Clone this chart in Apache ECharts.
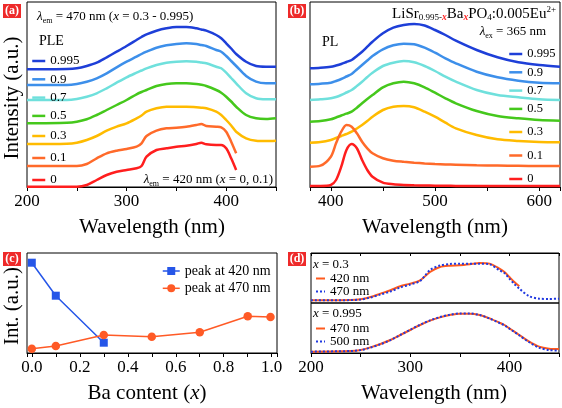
<!DOCTYPE html>
<html><head><meta charset="utf-8">
<script src="https://cdn.jsdelivr.net/npm/echarts@6/dist/echarts.min.js"></script>
<style>html,body{margin:0;padding:0;background:#fff}#c{width:562px;height:408px}</style>
</head><body><div id="c"></div>
<script>
// ---------- (a) PLE spectra (offset curves, px-above-axis units) ----------
const WL_A = [200,240,250,260,270,280,290,300,310,315,320,330,340,350,360,370,375,380,390,395,400,405,410,420,430,440,450];
const ple_0    = [1.3,1.3,1.3,3,8,13,16.3,18,19.7,22,31.3,38,39.7,41.3,42.3,44,45.3,43.7,43,43,39.7,29.7,18,null,null,null,null];
const ple_01   = [22,22,22,24,29.7,34.7,37.3,39,41.3,44.7,52,57.3,59.7,60.3,61.3,63,64,62,61.3,60.7,56.3,46.3,34.7,null,null,null,null];
const ple_03   = [44,44.3,45.3,48,52,57.3,61.3,64.7,69.7,72.5,76.3,79.7,81.3,81.3,81.3,80.7,80.3,79.7,76.3,73,68,62.5,56.3,49.7,47.3,47,47.3];
const ple_05   = [64.7,65.3,66.3,68.7,73,78,83,88,93.7,96,98,102,104,104.7,104.7,104,103.2,102,98,95.3,91.3,86.5,81.3,73,69.7,69,69.7];
const ple_07   = [88,88,89,91.3,94.7,99.7,105.3,110.7,115.3,117.5,119.7,123,125.3,126.3,126.7,126.3,125.5,124.7,121.3,119.7,115.3,110,104.7,94.7,89.7,88.7,88.7];
const ple_09   = [103,103,104,106.3,109.7,114.7,120.7,126.3,131.3,134,136.3,140.3,142.7,144,144.7,144,143,142,138,136.3,132,127,122,112,106.3,104.7,104.7];
const ple_0995 = [118.7,119,119.7,122,125.3,130.7,136.3,142,148,151,153.7,157.3,159.7,161,161,159.7,158.5,157.3,153,149.7,144.7,139.5,134,126.3,122,121.3,121.3];

// ---------- (b) PL spectra ----------
const WL_B = [380,390,400,405,410,415,420,425,430,435,440,450,460,470,480,490,500,510,520,540,560,580,600,620];
const pl_0    = [2,2,3,8,21.3,38,44,39.7,28,18,11.3,5.3,3.7,3,2.7,2.5,2.3,2.2,2.1,2,2,2,2,2];
const pl_01   = [21.3,22.3,31.3,44.7,56.3,63,61.3,54.7,46.3,39.7,34.7,29.7,27.3,26.2,25.3,24.6,24,23.6,23.3,22.7,22.4,22.2,22,22];
const pl_03   = [45.3,46,48,50,52,54,56.3,59.5,63,67,71.3,78,81.3,82,80.7,76.3,71.3,65.3,59.7,53,48.7,47,46,45.7];
const pl_05   = [66.3,67,68.7,70.5,72.5,74.3,76.3,80.3,84.7,89,93,100.7,104.7,106.3,104.7,100.7,95.3,89.7,84.7,77,72,69.7,68,67.3];
const pl_07   = [88,88.7,89.7,91,93,95.5,98,102,106.3,111,115.3,122,125.3,127,125.7,122,117,111.3,106.3,98,93,90.7,88.7,88];
const pl_09   = [103.7,104.3,105.3,107,109,111.5,114,118.5,123,127.5,132,138.7,142.7,144.3,143.7,140.3,135.3,129.7,124.7,116.3,110.7,107.3,105.3,104.7];
const pl_0995 = [119.7,120.3,121.3,122.5,124,126,128,132,136.3,141.3,146.3,154.7,160.3,163,164,162.5,158,153,147.3,138,130.7,125.7,123,121.3];

// ---------- (c) peak intensities vs Ba content ----------
const baX420 = [0, 0.1, 0.3];
const peak420 = [90.3, 57.3, 10.3];
const baX470 = [0, 0.1, 0.3, 0.5, 0.7, 0.9, 0.995];
const peak470 = [4.3, 7, 18, 16.3, 20.7, 36.7, 36];

// ---------- (d) normalised PLE comparison ----------
const WL_D = [200,240,250,260,270,280,290,300,310,320,330,340,350,360,370,380,390,395,400,405,410,420,430,440,450];
const d03_420   = [0.054,0.06,0.074,0.12,0.187,0.254,0.334,0.387,0.454,0.62,0.72,0.747,0.754,0.774,0.8,0.787,0.687,0.62,0.52,0.42,0.334,null,null,null,null];
const d03_470   = [0.054,0.058,0.07,0.11,0.17,0.23,0.31,0.37,0.44,0.66,0.75,0.78,0.787,0.787,0.787,0.774,0.654,0.6,0.487,0.38,0.287,0.134,0.087,0.08,0.087];
const d0995_470 = [0.027,0.04,0.06,0.113,0.18,0.26,0.36,0.46,0.56,0.647,0.713,0.76,0.787,0.787,0.76,0.693,0.607,0.56,0.493,0.427,0.36,0.227,0.127,0.087,0.08];
const d0995_500 = [0.027,0.04,0.058,0.108,0.175,0.257,0.36,0.465,0.565,0.652,0.718,0.765,0.79,0.79,0.76,0.69,0.6,0.555,0.487,0.42,0.352,0.215,0.105,0.058,0.05];

const xLabels = ['0.995','0.9','0.7','0.5','0.3','0.1','0'];
const COLORS = {'0.995':'#1e3fd8','0.9':'#3d8fea','0.7':'#6fe0dc','0.5':'#45c81c','0.3':'#ffbb00','0.1':'#ff6a2a','0':'#ff1e1e'};
const pleData = {'0.995':ple_0995,'0.9':ple_09,'0.7':ple_07,'0.5':ple_05,'0.3':ple_03,'0.1':ple_01,'0':ple_0};
const plData  = {'0.995':pl_0995,'0.9':pl_09,'0.7':pl_07,'0.5':pl_05,'0.3':pl_03,'0.1':pl_01,'0':pl_0};

const SERIF = 'Liberation Serif';
function pairs(xs, ys){ return xs.map((x,i)=>[x, ys[i]]).filter(p=>p[1]!==null && p[1]!==undefined); }

const grids = [
  {left:27, top:2, width:249, height:185},
  {left:310, top:2, width:250, height:185},
  {left:27, top:253, width:250, height:100},
  {left:311, top:253, width:248, height:50},
  {left:311, top:303, width:248, height:50}
].map(g=>Object.assign(g,{show:true, borderColor:'#000', borderWidth:1, containLabel:false, outerBoundsMode:'none', backgroundColor:'transparent'}));

function hundreds(v){ return (Math.abs(v/100 - Math.round(v/100))<1e-6) ? String(Math.round(v)) : ''; }
function wlAxis(gi, min, max, showLabels){
  return {type:'value', gridIndex:gi, min:min, max:max, minInterval:50, maxInterval:50,
    axisLine:{show:true, onZero:false, lineStyle:{color:'#000', width:1}},
    axisTick:{show:true, inside:false, length:4, lineStyle:{color:'#000'}},
    axisLabel:{show:showLabels, formatter:hundreds, fontFamily:SERIF, fontSize:17, color:'#000', margin:6, hideOverlap:false},
    splitLine:{show:false}};
}
const xAxes = [
  wlAxis(0,200,450,true),
  wlAxis(1,380,620,true),
  {type:'value', gridIndex:2, min:-0.02, max:1.022, minInterval:0.1, maxInterval:0.1,
    axisLine:{show:true, onZero:false, lineStyle:{color:'#000'}},
    axisTick:{show:true, length:4, lineStyle:{color:'#000'}},
    axisLabel:{fontFamily:SERIF, fontSize:17, color:'#000', margin:6, hideOverlap:false,
      formatter:function(v){ const t=Math.round(v*10); return (Math.abs(v*10-t)<1e-6 && t%2===0 && t>=0 && t<=10) ? (t/10).toFixed(1) : ''; }},
    splitLine:{show:false}},
  Object.assign(wlAxis(3,200,450,false), {position:'top', axisTick:{show:true, inside:true, length:3, lineStyle:{color:'#000'}}}),
  wlAxis(4,200,450,true)
];
const yAxes = [
  {type:'value', gridIndex:0, min:1, max:186, show:false},
  {type:'value', gridIndex:1, min:1, max:186, show:false},
  {type:'value', gridIndex:2, min:0, max:100, show:false},
  {type:'value', gridIndex:3, min:0, max:1, show:false},
  {type:'value', gridIndex:4, min:0, max:1, show:false}
];

const series = [];
xLabels.forEach(k=>{
  series.push({name:'a:'+k, type:'line', xAxisIndex:0, yAxisIndex:0, data:pairs(WL_A, pleData[k]),
    symbol:'none', smooth:0.3, lineStyle:{color:COLORS[k], width:2.5}, itemStyle:{color:COLORS[k]}, z:2});
  series.push({name:'b:'+k, type:'line', xAxisIndex:1, yAxisIndex:1, data:pairs(WL_B, plData[k]),
    symbol:'none', smooth:0.3, lineStyle:{color:COLORS[k], width:2.5}, itemStyle:{color:COLORS[k]}, z:2});
});
series.push({name:'c:peak at 420 nm', type:'line', xAxisIndex:2, yAxisIndex:2, data:pairs(baX420, peak420),
  symbol:'rect', symbolSize:8, lineStyle:{color:'#2656e8', width:1.5}, itemStyle:{color:'#2656e8'}, z:3});
series.push({name:'c:peak at 470 nm', type:'line', xAxisIndex:2, yAxisIndex:2, data:pairs(baX470, peak470),
  symbol:'circle', symbolSize:8.5, lineStyle:{color:'#ff5a26', width:1.5}, itemStyle:{color:'#ff5a26'}, z:4});
series.push({name:'d1:420 nm', type:'line', xAxisIndex:3, yAxisIndex:3, data:pairs(WL_D, d03_420),
  symbol:'none', smooth:0.3, lineStyle:{color:'#ff5a1e', width:2}, itemStyle:{color:'#ff5a1e'}, z:2});
series.push({name:'d1:470 nm', type:'line', xAxisIndex:3, yAxisIndex:3, data:pairs(WL_D, d03_470),
  symbol:'none', smooth:0.3, lineStyle:{color:'#2038e0', width:2, type:[2,2]}, itemStyle:{color:'#2038e0'}, z:3});
series.push({name:'d2:470 nm', type:'line', xAxisIndex:4, yAxisIndex:4, data:pairs(WL_D, d0995_470),
  symbol:'none', smooth:0.3, lineStyle:{color:'#ff5a1e', width:2}, itemStyle:{color:'#ff5a1e'}, z:2});
series.push({name:'d2:500 nm', type:'line', xAxisIndex:4, yAxisIndex:4, data:pairs(WL_D, d0995_500),
  symbol:'none', smooth:0.3, lineStyle:{color:'#2038e0', width:2, type:[2,2]}, itemStyle:{color:'#2038e0'}, z:3});

function lg(names, left, top, opts){
  return Object.assign({
    data:names, left:left, top:top, orient:'vertical', padding:0, selectedMode:false,
    itemWidth:13, itemHeight:14, itemGap:4,
    formatter:function(n){ return n.split(':')[1]; },
    textStyle:{fontFamily:SERIF, fontSize:13, color:'#000', lineHeight:14},
    itemStyle:{opacity:0}, lineStyle:{width:2.5}
  }, opts||{});
}
const legends = [
  lg(['a:0.995','a:0.9','a:0.7','a:0.5'], 31, 54, {itemGap:4.3}),
  lg(['a:0.3','a:0.1','a:0'], 31, 129, {itemGap:8}),
  lg(['b:0.995','b:0.9','b:0.7','b:0.5'], 508, 47, {itemGap:4.3, textStyle:{fontFamily:SERIF, fontSize:12.5, color:'#000', lineHeight:14}}),
  lg(['b:0.3','b:0.1','b:0'], 508, 125, {itemGap:9.5, textStyle:{fontFamily:SERIF, fontSize:12.5, color:'#000', lineHeight:14}}),
  lg(['c:peak at 420 nm','c:peak at 470 nm'], 162, 264, {itemWidth:17, itemHeight:10, itemGap:3.3, itemStyle:{}, lineStyle:{width:1.5},
     textStyle:{fontFamily:SERIF, fontSize:14, color:'#000', lineHeight:14}}),
  lg(['d1:420 nm','d1:470 nm'], 315, 272, {itemWidth:9, itemHeight:8, itemGap:0, lineStyle:{width:2},
     textStyle:{fontFamily:SERIF, fontSize:13, color:'#000', lineHeight:12.5}}),
  lg(['d2:470 nm','d2:500 nm'], 315, 322, {itemWidth:9, itemHeight:8, itemGap:0, lineStyle:{width:2},
     textStyle:{fontFamily:SERIF, fontSize:13, color:'#000', lineHeight:12.5}})
];

function rs(size, extra){ return Object.assign({fontFamily:SERIF, fontSize:size, fill:'#000', fontStyle:'normal'}, extra||{}); }
function txt(x, y, text, size, align, extra){
  return Object.assign({type:'text', x:x, y:y, z:100, style:Object.assign({text:text, fontFamily:SERIF, fontSize:size, fill:'#000', align:align||'left', verticalAlign:'middle'}, extra||{})}, {});
}
function richTxt(x, y, text, size, align, rich){
  return {type:'text', x:x, y:y, z:100, style:{text:text, fontFamily:SERIF, fontSize:size, fill:'#000', align:align, verticalAlign:'middle', rich:rich}};
}
const richA = {
  n: rs(13), i: rs(13,{fontStyle:'italic'}), sub: rs(8,{padding:[7,0,0,0]})
};
const richF = {
  n: rs(15), sub: rs(9,{padding:[8,0,0,0]}), subx: rs(9.5,{fontStyle:'italic', fill:'#ff1e1e', fontWeight:'bold', padding:[8,0,0,0]}),
  sup: rs(9,{padding:[0,0,9,0]})
};
function tag(x, y, s){
  return [{type:'rect', z:100, shape:{x:x, y:y, width:18, height:14}, style:{fill:'#ee2a2a'}},
          {type:'text', z:101, x:x+9, y:y+7, style:{text:s, fontFamily:SERIF, fontSize:12, fontWeight:'bold', fill:'#fff', align:'center', verticalAlign:'middle'}}];
}
const graphics = [].concat(
  tag(3,4,'(a)'), tag(288,4,'(b)'), tag(3,252,'(c)'), tag(288,252,'(d)'),
  [
    Object.assign(txt(12, 98, 'Intensity (a.u.)', 21, 'center'), {rotation:Math.PI/2}),
    txt(152, 227, 'Wavelength (nm)', 21, 'center'),
    txt(435, 227, 'Wavelength (nm)', 21, 'center'),
    Object.assign(txt(12, 306, 'Int. (a.u.)', 21, 'center'), {rotation:Math.PI/2}),
    richTxt(147, 393, '{n|Ba content (}{i|x}{n|)}', 21, 'center', {n:rs(21), i:rs(21,{fontStyle:'italic'})}),
    txt(434, 393, 'Wavelength (nm)', 21, 'center'),
    richTxt(37, 17, '{i|λ}{sub|em}{n| = 470 nm (}{i|x}{n| = 0.3 - 0.995)}', 13, 'left', richA),
    txt(39, 41, 'PLE', 14, 'left'),
    richTxt(273, 180, '{i|λ}{sub|em}{n| = 420 nm (}{i|x}{n| = 0, 0.1)}', 13, 'right', richA),
    richTxt(556, 14, '{n|LiSr}{sub|0.995-}{subx|x}{n|Ba}{subx|x}{n|PO}{sub|4}{n|:0.005Eu}{sup|2+}', 15, 'right', richF),
    richTxt(546, 32, '{i|λ}{sub|ex}{n| = 365 nm}', 13, 'right', richA),
    txt(322, 42, 'PL', 14, 'left'),
    richTxt(313, 265, '{i|x}{n| = 0.3}', 13, 'left', {n:rs(13), i:rs(13,{fontStyle:'italic'})}),
    richTxt(313, 314, '{i|x}{n| = 0.995}', 13, 'left', {n:rs(13), i:rs(13,{fontStyle:'italic'})})
  ]
);

const chart = echarts.init(document.getElementById('c'), null, {renderer:'canvas'});
chart.setOption({
  animation:false,
  backgroundColor:'#fff',
  grid:grids, xAxis:xAxes, yAxis:yAxes, series:series, legend:legends,
  graphic:graphics
});
</script></body></html>
